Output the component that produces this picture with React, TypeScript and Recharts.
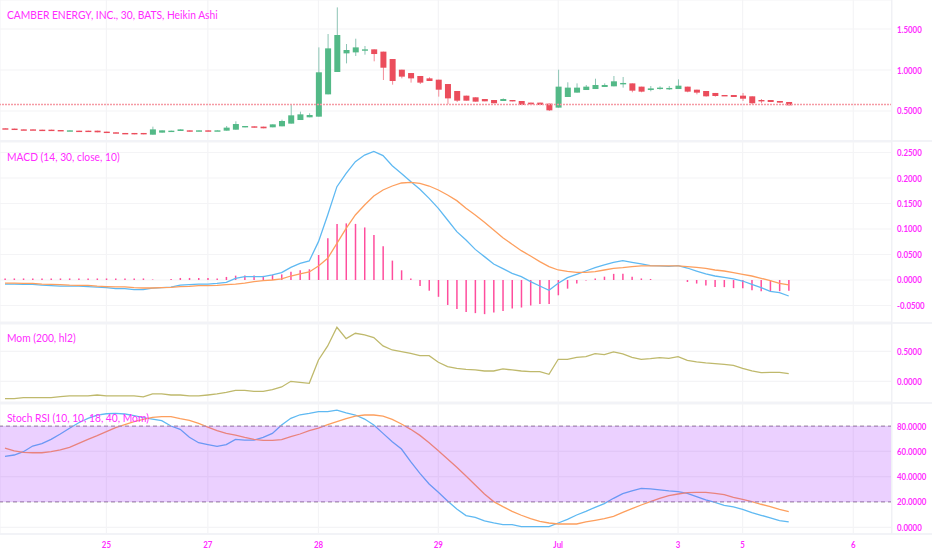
import { Bar, CartesianGrid, ComposedChart, Line, ReferenceArea, ReferenceLine, XAxis, YAxis } from "recharts";

const dayTicks = [11, 22, 34, 47, 60, 73, 80, 92];
const dayLabels = ["25", "27", "28", "29", "Jul", "3", "5", "6"];

const open = [
  0.289, 0.285, 0.276, 0.276, 0.272, 0.272, 0.268, 0.256, 0.26, 0.26, 0.26, 0.248, 0.24, 0.232, 0.232, 0.232, 0.211,
  0.236, 0.244, 0.256, 0.264, 0.252, 0.264, 0.256, 0.26, 0.272, 0.301, 0.313, 0.309, 0.301, 0.313, 0.346, 0.39, 0.423,
  0.431, 0.703, 0.976, 1.203, 1.215, 1.248, 1.252, 1.224, 1.134, 1.004, 0.963, 0.927, 0.898, 0.882, 0.829, 0.744,
  0.687, 0.667, 0.646, 0.634, 0.622, 0.634, 0.622, 0.602, 0.602, 0.59, 0.541, 0.671, 0.724, 0.756, 0.768, 0.793,
  0.801, 0.837, 0.837, 0.797, 0.756, 0.768, 0.776, 0.768, 0.797, 0.76, 0.744, 0.72, 0.695, 0.695, 0.687, 0.679, 0.634,
  0.634, 0.622, 0.61,
];
const close = [
  0.281, 0.276, 0.268, 0.268, 0.264, 0.264, 0.26, 0.264, 0.252, 0.252, 0.24, 0.232, 0.228, 0.224, 0.216, 0.216, 0.276,
  0.264, 0.26, 0.276, 0.248, 0.264, 0.252, 0.264, 0.297, 0.341, 0.317, 0.297, 0.289, 0.337, 0.378, 0.447, 0.459, 0.451,
  0.972, 1.264, 1.427, 1.244, 1.276, 1.252, 1.195, 1.028, 0.866, 0.919, 0.898, 0.846, 0.866, 0.76, 0.654, 0.626,
  0.626, 0.614, 0.618, 0.594, 0.646, 0.618, 0.573, 0.581, 0.573, 0.508, 0.797, 0.785, 0.785, 0.797, 0.817, 0.817,
  0.862, 0.842, 0.748, 0.736, 0.776, 0.785, 0.781, 0.809, 0.736, 0.724, 0.679, 0.683, 0.687, 0.671, 0.65, 0.594, 0.622,
  0.61, 0.602, 0.569,
];
const high = [
  0.289, 0.285, 0.276, 0.276, 0.272, 0.272, 0.268, 0.264, 0.26, 0.26, 0.26, 0.248, 0.24, 0.232, 0.232, 0.232, 0.309,
  0.264, 0.26, 0.276, 0.264, 0.264, 0.264, 0.264, 0.317, 0.374, 0.317, 0.313, 0.309, 0.337, 0.394, 0.573, 0.492, 0.472,
  1.276, 1.439, 1.764, 1.317, 1.382, 1.293, 1.252, 1.224, 1.134, 1.004, 0.963, 0.927, 0.911, 0.882, 0.829, 0.744,
  0.687, 0.667, 0.646, 0.634, 0.654, 0.634, 0.622, 0.602, 0.602, 0.59, 1.004, 0.85, 0.837, 0.817, 0.894, 0.837,
  0.927, 0.915, 0.837, 0.797, 0.805, 0.801, 0.805, 0.886, 0.797, 0.76, 0.744, 0.72, 0.695, 0.695, 0.72, 0.679, 0.646,
  0.634, 0.622, 0.61,
];
const low = [
  0.281, 0.276, 0.268, 0.268, 0.264, 0.264, 0.26, 0.256, 0.252, 0.252, 0.24, 0.232, 0.228, 0.224, 0.216, 0.216, 0.211,
  0.236, 0.244, 0.256, 0.248, 0.252, 0.252, 0.256, 0.26, 0.272, 0.301, 0.297, 0.289, 0.301, 0.313, 0.346, 0.39, 0.423,
  0.431, 0.703, 0.976, 1.081, 1.171, 1.187, 1.106, 0.878, 0.821, 0.898, 0.846, 0.829, 0.866, 0.675, 0.585, 0.61,
  0.626, 0.614, 0.618, 0.594, 0.622, 0.618, 0.573, 0.581, 0.573, 0.5, 0.541, 0.671, 0.724, 0.756, 0.768, 0.793,
  0.801, 0.785, 0.728, 0.728, 0.74, 0.76, 0.756, 0.768, 0.728, 0.703, 0.675, 0.675, 0.687, 0.671, 0.622, 0.581, 0.594,
  0.61, 0.602, 0.569,
];

const macdLine = [
  -0.008, -0.008, -0.0085, -0.0085, -0.01, -0.011, -0.012, -0.012, -0.012, -0.013, -0.014, -0.015, -0.017, -0.017,
  -0.019, -0.019, -0.016, -0.015, -0.014, -0.01, -0.009, -0.008, -0.008, -0.0065, -0.0045, 0.003, 0.0065, 0.0065,
  0.0065, 0.0098, 0.0144, 0.0248, 0.0327, 0.0373, 0.0752, 0.1275, 0.183, 0.209, 0.232, 0.245, 0.252, 0.244, 0.224,
  0.209, 0.193, 0.178, 0.16, 0.1405, 0.1176, 0.0948, 0.0784, 0.06, 0.0458, 0.0314, 0.0222, 0.0131, 0.0065, -0.0033,
  -0.0118, -0.0203, -0.0065, 0.0046, 0.0111, 0.0176, 0.0242, 0.0294, 0.0346, 0.0379, 0.0346, 0.0314, 0.0281, 0.0275,
  0.0268, 0.0281, 0.0235, 0.0176, 0.0118, 0.0078, 0.0052, 0.002, -0.002, -0.0085, -0.015, -0.0222, -0.0248, -0.0314,
];
const signalLine = [
  -0.006, -0.006, -0.0065, -0.0065, -0.008, -0.0085, -0.009, -0.01, -0.0105, -0.0105, -0.012, -0.013, -0.0137, -0.0137,
  -0.015, -0.0157, -0.0157, -0.015, -0.0144, -0.013, -0.0124, -0.011, -0.011, -0.0105, -0.009, -0.008, -0.006, -0.0033,
  -0.0013, 0, 0.002, 0.0078, 0.0118, 0.0157, 0.0275, 0.0425, 0.0719, 0.1013, 0.1275, 0.1471, 0.1647, 0.1765, 0.1843,
  0.1902, 0.1915, 0.1895, 0.1843, 0.1765, 0.1667, 0.1556, 0.1405, 0.1275, 0.1131, 0.098, 0.083, 0.0699, 0.0575, 0.0471,
  0.0359, 0.0261, 0.0196, 0.017, 0.015, 0.015, 0.0163, 0.0196, 0.0229, 0.0242, 0.0261, 0.0275, 0.0275, 0.0275, 0.0275,
  0.0275, 0.0261, 0.0248, 0.0229, 0.0196, 0.0176, 0.0144, 0.0111, 0.0078, 0.0033, -0.0013, -0.0065, -0.0098,
];
const macdHist = [
  0.003, 0.003, 0.003, 0.003, 0.003, 0.003, 0.003, 0.003, 0.003, 0.003, 0.003, 0.003, 0.003, 0.003, 0.003, 0.003, 0.001,
  0, 0.002, 0.004, 0.004, 0.004, 0.004, 0.003, 0.006, 0.0085, 0.009, 0.009, 0.008, 0.01, 0.011, 0.016, 0.019, 0.021,
  0.049, 0.082, 0.11, 0.111, 0.11, 0.103, 0.088, 0.066, 0.038, 0.019, 0.003, -0.012, -0.021, -0.033, -0.049, -0.057,
  -0.063, -0.065, -0.067, -0.064, -0.061, -0.056, -0.054, -0.05, -0.047, -0.047, -0.03, -0.017, -0.007, -0.001, 0.003,
  0.0065, 0.012, 0.012, 0.0065, 0.003, 0.002, 0, 0, 0, -0.004, -0.007, -0.011, -0.014, -0.014, -0.016, -0.016, -0.02,
  -0.022, -0.022, -0.022, -0.021,
];

const momentum = [
  -0.289, -0.289, -0.272, -0.272, -0.272, -0.272, -0.256, -0.244, -0.244, -0.244, -0.228, -0.244, -0.244, -0.244,
  -0.244, -0.261, -0.211, -0.211, -0.228, -0.228, -0.244, -0.244, -0.228, -0.211, -0.183, -0.15, -0.15, -0.167, -0.167,
  -0.139, -0.094, 0, -0.017, -0.033, 0.356, 0.589, 0.9, 0.711, 0.8, 0.772, 0.728, 0.589, 0.522, 0.494, 0.467, 0.428,
  0.428, 0.317, 0.244, 0.217, 0.2, 0.189, 0.172, 0.172, 0.206, 0.189, 0.172, 0.161, 0.161, 0.117, 0.367, 0.367, 0.4,
  0.411, 0.461, 0.444, 0.489, 0.456, 0.4, 0.367, 0.378, 0.394, 0.383, 0.411, 0.35, 0.322, 0.306, 0.294, 0.283, 0.267,
  0.217, 0.172, 0.144, 0.15, 0.15, 0.128,
];

const stochK = [
  56.1, 57.1, 59.7, 64.2, 66.1, 69.5, 73.7, 78.2, 82.6, 86.1, 88.7, 89.7, 90, 89.5, 88.2, 86.6, 85.5, 84.2, 80, 77.4,
  71.1, 66.8, 65.3, 63.9, 65.3, 69.5, 68.9, 68.9, 71.1, 74.2, 80.8, 86.1, 88.9, 90, 91.3, 91.3, 92.6, 90.3, 88.7, 85.5,
  80.8, 74.2, 67.6, 61.8, 51.8, 42.6, 34.2, 27.6, 20.8, 14.5, 9.2, 7.9, 5, 3.4, 2.1, 2.1, 0.5, 0.5, 0.5, 0.5, 3.4, 6.3,
  9.7, 12.6, 15.8, 18.7, 22.9, 26.6, 28.7, 30.8, 30.3, 29.5, 28.7, 28.2, 26.8, 24.2, 21.6, 19.7, 17.4, 16.1, 14.2, 11.6,
  9.5, 7.4, 5.3, 4.2,
];
const stochD = [
  62.6, 60.3, 59.2, 58.9, 58.9, 59.7, 61.1, 63.2, 66.3, 69.5, 72.4, 75.5, 78.7, 81.1, 83.4, 85.3, 86.8, 87.4, 87.4,
  85.8, 84.5, 82.1, 79.2, 76.3, 74.2, 72.9, 71.1, 69.5, 68.7, 68.7, 69.2, 71.6, 73.7, 76.3, 78.4, 81.1, 83.4, 85.8,
  87.9, 88.7, 88.7, 87.9, 85.3, 81.6, 77.4, 72.6, 66.8, 60.5, 53.9, 47.4, 40.5, 33.4, 26.3, 20.3, 16.3, 12.6, 9.5, 6.8,
  4.7, 3.4, 2.6, 2.6, 2.6, 4.2, 5.5, 6.8, 8.7, 11.8, 14.7, 17.6, 20.3, 22.9, 25, 26.3, 27.4, 27.6, 27.6, 26.8, 25.8,
  23.7, 22.1, 20.3, 18.2, 16.3, 14.2, 12.4,
];

const priceTicks = [0.5, 1, 1.5];
const macdTicks = [-0.05, 0, 0.05, 0.1, 0.15, 0.2, 0.25];
const momTicks = [0, 0.5];
const stochTicks = [0, 20, 40, 60, 80];
const lastPrice = 0.579;

const rows = open.map((o, i) => ({
  i,
  open: o,
  close: close[i],
  high: high[i],
  low: low[i],
  macd: macdLine[i],
  signal: signalLine[i],
  hist: macdHist[i],
  mom: momentum[i],
  k: stochK[i],
  d: stochD[i],
}));

const W = 932;
const XDOMAIN: [number, number] = [-0.54, 96.2];
const MAGENTA = "#ff2bff";
const GRID = "#f4f4f6";
const FONT = "Lato, sans-serif";

// the source font is narrower than anything installed, so squeeze Lato
const NarrowTick = ({ x, y, anchor, dy, text }: any) => (
  <text
    transform={`translate(${x},${y + dy}) scale(0.79,1)`}
    textAnchor={anchor}
    fill={MAGENTA}
    fontFamily={FONT}
    fontSize={10}
    fontWeight={700}
  >
    {text}
  </text>
);

const YTick = ({ x, y, payload }: any) => (
  <NarrowTick x={x} y={y} dy={3.5} anchor="start" text={payload.value.toFixed(4)} />
);

const XTick = ({ x, y, payload }: any) => (
  <NarrowTick x={x} y={y} dy={8} anchor="middle" text={dayLabels[dayTicks.indexOf(payload.value)]} />
);

const Candle = (props: any) => {
  const { x, y, width, height, payload } = props;
  const top = Math.min(y, y + height);
  const h = Math.abs(height);
  const pxPerUnit = h / (payload.high - payload.low);
  const up = payload.close >= payload.open;
  const bodyTop = top + (payload.high - Math.max(payload.open, payload.close)) * pxPerUnit;
  const bodyH = Math.max(1.4, Math.abs(payload.close - payload.open) * pxPerUnit);
  const fill = up ? "#53b987" : "#eb4d5c";
  const wick = up ? "#8cc4b4" : "#f38c98";
  return (
    <g>
      <line x1={x + width / 2} x2={x + width / 2} y1={top} y2={top + h} stroke={wick} strokeWidth={1} />
      <rect x={x} y={bodyTop} width={width} height={bodyH} fill={fill} />
    </g>
  );
};

const Pane = ({ top, height, ticks, domain, xLabels, children }: any) => (
  <div style={{ position: "absolute", left: 0, top, width: W, height }}>
    <ComposedChart width={W} height={height} data={rows} margin={{ top: 0, right: 0, bottom: 0, left: 0 }}>
      <CartesianGrid stroke={GRID} strokeWidth={1.2} />
      <XAxis
        dataKey="i"
        type="number"
        domain={XDOMAIN}
        ticks={dayTicks}
        interval={0}
        hide={!xLabels}
        height={xLabels ? 16 : 0}
        axisLine={false}
        tickLine={false}
        tickSize={0}
        tickMargin={6}
        tick={<XTick />}
      />
      <YAxis
        orientation="right"
        width={40}
        domain={domain}
        ticks={ticks}
        interval={0}
        axisLine={false}
        tickLine={false}
        tickSize={0}
        tickMargin={5}
        tick={<YTick />}
      />
      {children}
    </ComposedChart>
  </div>
);

const Label = ({ x, y, children }: any) => (
  <div
    style={{
      position: "absolute",
      left: x,
      top: y,
      color: MAGENTA,
      fontFamily: FONT,
      fontSize: 12,
      lineHeight: "14px",
      whiteSpace: "nowrap",
      transform: "scaleX(0.855)",
      transformOrigin: "left center",
    }}
  >
    {children}
  </div>
);

const Rule = ({ top }: { top: number }) => (
  <div style={{ position: "absolute", left: 0, top, width: W, height: 2, background: "#f2f3f7" }} />
);

export default function App() {
  return (
    <div style={{ position: "absolute", left: 0, top: 0, width: W, height: 550, background: "#fff", overflow: "hidden" }}>
      <Pane top={0} height={141} ticks={priceTicks} domain={[0.134, 1.854]}>
        <ReferenceLine y={lastPrice} stroke="#f59aa4" strokeWidth={1.3} strokeDasharray="2 1" />
        <Bar
          dataKey={(d: any) => [d.low, d.high]}
          barSize={6}
          shape={<Candle />}
          isAnimationActive={false}
        />
      </Pane>
      <Pane top={142} height={180} ticks={macdTicks} domain={[-0.0824, 0.2706]}>
        <Bar dataKey="hist" barSize={1.5} fill="#ff4d9d" isAnimationActive={false} />
        <Line dataKey="macd" type="linear" stroke="#5fb9f2" strokeWidth={1.3} dot={false} isAnimationActive={false} />
        <Line dataKey="signal" type="linear" stroke="#fd9f5e" strokeWidth={1.3} dot={false} isAnimationActive={false} />
      </Pane>
      <Pane top={324} height={78} ticks={momTicks} domain={[-0.345, 0.955]}>
        <Line dataKey="mom" type="linear" stroke="#bfb96c" strokeWidth={1.3} dot={false} isAnimationActive={false} />
      </Pane>
      <Pane top={404} height={146} ticks={stochTicks} domain={[-5.3, 97.4]} xLabels>
        <Line dataKey="k" type="linear" stroke="#5fb9f2" strokeWidth={1.3} dot={false} isAnimationActive={false} />
        <Line dataKey="d" type="linear" stroke="#fd9f5e" strokeWidth={1.3} dot={false} isAnimationActive={false} />
        <ReferenceArea y1={20} y2={80} fill="#9915ff" fillOpacity={0.2} stroke="none" zIndex={600} />
        <ReferenceLine y={80} stroke="#a79aa8" strokeWidth={1.2} strokeDasharray="4 3" />
        <ReferenceLine y={20} stroke="#a79aa8" strokeWidth={1.2} strokeDasharray="4 3" />
      </Pane>
      <Rule top={140} />
      <Rule top={322} />
      <Rule top={402} />
      <Rule top={533} />
      <div style={{ position: "absolute", left: 891, top: 0, width: 1, height: 534, background: "#f0f1f5" }} />
      <Label x={7} y={8}>CAMBER ENERGY, INC., 30, BATS, Heikin Ashi</Label>
      <Label x={7} y={150}>MACD (14, 30, close, 10)</Label>
      <Label x={7} y={331}>Mom (200, hl2)</Label>
      <Label x={7} y={411}>Stoch RSI (10, 10, 18, 40, Mom)</Label>
    </div>
  );
}
